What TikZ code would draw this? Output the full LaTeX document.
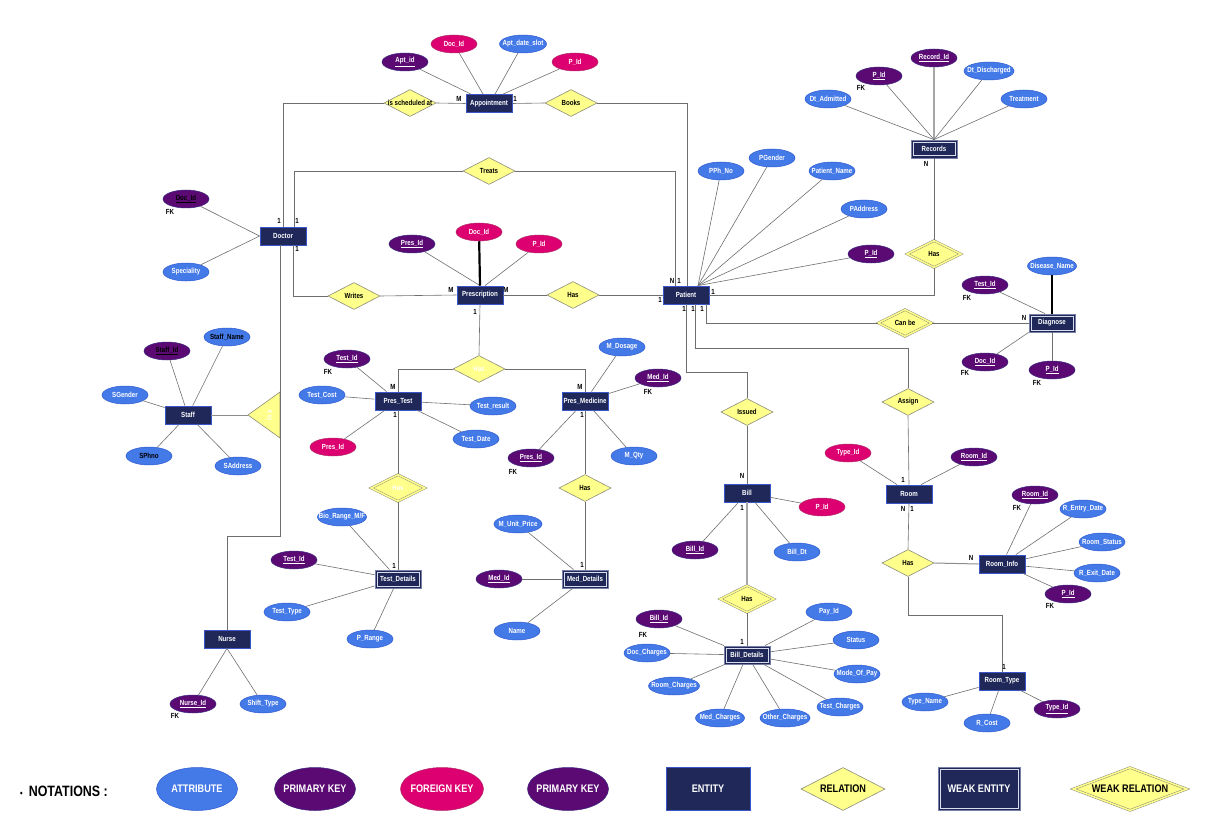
\documentclass[tikz,border=0pt]{standalone}
\usepackage{fontspec}
\setmainfont{Liberation Sans}[FakeStretch=0.83]
\usetikzlibrary{shapes.geometric}

\definecolor{entfill}{HTML}{1F2858}
\definecolor{entdraw}{HTML}{3A56C8}
\definecolor{wentline}{HTML}{7880A8}
\definecolor{wentinner}{HTML}{D8DCEC}
\definecolor{relfill}{HTML}{FFFF8C}
\definecolor{reldraw}{HTML}{8C8C7A}
\definecolor{attrc}{HTML}{4479E8}
\definecolor{attrd}{HTML}{2F5BD0}
\definecolor{pkc}{HTML}{5C0A73}
\definecolor{pkd}{HTML}{3A2A80}
\definecolor{fkc}{HTML}{DC0070}
\definecolor{fkd}{HTML}{B0306A}
\definecolor{lnc}{HTML}{6E6E6E}

\newcommand\dfont{\fontsize{7.4}{8}\selectfont\bfseries}
\newcommand\lfont{\fontsize{11}{12}\selectfont\bfseries}
\newcommand\pkul[1]{\underline{#1}}

\begin{document}
\begin{tikzpicture}[x=1pt,y=-1pt,
  base/.style={inner sep=0pt, font=\dfont,
    execute at begin node={\hbox to 0pt\bgroup\hss},
    execute at end node={\hss\egroup}},
  ent/.style={base, rectangle, fill=entfill, draw=entdraw, line width=0.8pt,
    minimum width=46pt, minimum height=18pt, text=white},
  went/.style={ent, draw=wentline, line width=0.8pt,
    path picture={\draw[draw=wentinner, line width=0.6pt]
      ([xshift=2.2pt,yshift=-2.2pt]path picture bounding box.north west) rectangle
      ([xshift=-2.2pt,yshift=2.2pt]path picture bounding box.south east);}},
  rel/.style={base, diamond, fill=relfill, draw=reldraw, line width=0.6pt,
    minimum width=52pt, minimum height=27pt, text=black},
  wrel/.style={rel, double=relfill, double distance=1.5pt, line width=0.5pt, minimum width=54pt},
  attr/.style={base, ellipse, fill=attrc, draw=attrd, line width=0.5pt,
    minimum width=46pt, minimum height=18pt, text=white},
  pk/.style={attr, fill=pkc, draw=pkd},
  fk/.style={attr, fill=fkc, draw=fkd},
  card/.style={font=\dfont, inner sep=0pt, text=black},
  ln/.style={draw=lnc, line width=0.6pt},
]
\useasboundingbox (0,0) rectangle (1217,826);

% ---------- Appointment ----------
\node[ent] (appt) at (489,103.5) {Appointment};
\node[pk] (aptid) at (405,62) {\pkul{Apt\_id}};
\node[fk] (adoc) at (454,44) {Doc\_Id};
\node[attr, minimum width=47pt] (aslot) at (523,44) {Apt\_date\_slot};
\node[fk] (apid) at (575,62) {P\_Id};
\node[rel] (sched) at (410,103) {is scheduled at};
\node[rel] (books) at (571,103) {Books};

% ---------- Doctor ----------
\node[ent] (doc) at (283,236) {Doctor};
\node[pk, text=black] (docid) at (186,199) {\pkul{Doc\_Id}};
\node[attr] (spec) at (186,272) {Speciality};
\node[rel] (treats) at (489,171) {Treats};
\node[rel] (writes) at (354,296) {Writes};

% ---------- Prescription ----------
\node[ent] (presc) at (480,295) {Prescription};
\node[pk] (prid) at (412,244) {\pkul{Pres\_Id}};
\node[fk] (prdoc) at (479,232) {Doc\_Id};
\node[fk] (prpid) at (539,244) {P\_Id};
\node[rel] (prhas) at (573,295) {Has};
\node[rel, text=white] (prsub) at (479,369) {Has};

% ---------- Patient ----------
\node[ent] (pat) at (686,295) {Patient};
\node[attr] (pph) at (721,171) {PPh\_No};
\node[attr] (pgen) at (772,158) {PGender};
\node[attr] (pname) at (832,171) {Patient\_Name};
\node[attr] (paddr) at (864,209) {PAddress};
\node[pk] (ppid) at (871,254) {\pkul{P\_Id}};

% ---------- Records ----------
\node[went] (rec) at (934,149) {Records};
\node[pk] (recid) at (934,58) {\pkul{Record\_Id}};
\node[pk] (recpid) at (879,76) {\pkul{P\_Id}};
\node[attr] (dtadm) at (828,99) {Dt\_Admitted};
\node[attr, minimum width=50pt] (dtdis) at (989,71) {Dt\_Discharged};
\node[attr] (treat) at (1024,99) {Treatment};
\node[wrel] (rechas) at (934,254) {Has};

% ---------- Diagnose ----------
\node[went] (diag) at (1052,323) {Diagnose};
\node[attr, minimum width=49pt] (dname) at (1052,266) {Disease\_Name};
\node[pk] (dtid) at (985,285) {\pkul{Test\_Id}};
\node[pk] (ddoc) at (985,362) {\pkul{Doc\_Id}};
\node[pk] (dpid) at (1052,370) {\pkul{P\_Id}};
\node[wrel] (canbe) at (905,323) {Can be};

% ---------- Staff ----------
\node[ent] (staff) at (188,415) {Staff};
\node[pk, text=black] (stid) at (167,351) {\pkul{Staff\_Id}};
\node[attr, text=black] (stname) at (227,337) {Staff\_Name};
\node[attr] (sgen) at (125,395) {SGender};
\node[attr, text=black] (sph) at (149,456) {SPhno};
\node[attr] (saddr) at (238,466) {SAddress};
\coordinate (isaapex) at (248,415);
\draw[fill=relfill, draw=reldraw, line width=0.6pt] (isaapex) -- (280,392) -- (280,438) -- cycle;
\node[base, text=white, rotate=90] (isa) at (269,415) {Is a};

% ---------- Pres_Test ----------
\node[ent] (ptest) at (398,401) {Pres\_Test};
\node[pk] (pttid) at (347,359) {\pkul{Test\_Id}};
\node[attr] (tcost) at (322,395) {Test\_Cost};
\node[fk] (ptpres) at (333,447) {Pres\_Id};
\node[attr] (tres) at (493,406) {Test\_result};
\node[attr] (tdate) at (476,439) {Test\_Date};
\node[wrel, text=white] (thas) at (398,488) {Has};

% ---------- Pres_Medicine ----------
\node[ent] (pmed) at (585,401) {Pres\_Medicine};
\node[attr] (mdos) at (622,347) {M\_Dosage};
\node[pk] (pmmid) at (658,378) {\pkul{Med\_Id}};
\node[pk] (pmpres) at (531,458) {\pkul{Pres\_Id}};
\node[attr] (mqty) at (634,456) {M\_Qty};
\node[rel] (mhas) at (585,488) {Has};

% ---------- Test_Details / Med_Details ----------
\node[went] (tdet) at (398,579) {Test\_Details};
\node[attr, minimum width=49pt] (bio) at (342,517) {Bio\_Range\_M/F};
\node[pk] (tdtid) at (294,560) {\pkul{Test\_Id}};
\node[attr] (ttype) at (287,612) {Test\_Type};
\node[attr] (prange) at (370,639) {P\_Range};

\node[went] (mdet) at (585,579) {Med\_Details};
\node[attr, minimum width=48pt] (mup) at (518,524) {M\_Unit\_Price};
\node[pk] (mdmid) at (499,579) {\pkul{Med\_Id}};
\node[attr] (mname) at (517,631) {Name};

% ---------- Nurse ----------
\node[ent] (nurse) at (227,639) {Nurse};
\node[pk] (nid) at (193,704) {\pkul{Nurse\_Id}};
\node[attr] (shift) at (263,704) {Shift\_Type};

% ---------- Bill ----------
\node[rel] (issued) at (747,412) {Issued};
\node[ent] (bill) at (747,493) {Bill};
\node[fk] (bpid) at (822,507) {P\_Id};
\node[pk] (bid) at (695,550) {\pkul{Bill\_Id}};
\node[attr] (bdt) at (797,552) {Bill\_Dt};
\node[wrel] (bhas) at (747,599) {Has};
\node[went] (bdet) at (747,655) {Bill\_Details};
\node[pk] (bdbid) at (659,619) {\pkul{Bill\_Id}};
\node[attr] (docch) at (647,653) {Doc\_Charges};
\node[attr, minimum width=51pt] (roomch) at (674,686) {Room\_Charges};
\node[attr, minimum width=49pt] (medch) at (720,718) {Med\_Charges};
\node[attr, minimum width=50pt] (othch) at (785,718) {Other\_Charges};
\node[attr] (testch) at (840,707) {Test\_Charges};
\node[attr] (mop) at (857,674) {Mode\_Of\_Pay};
\node[attr] (status) at (856,640) {Status};
\node[attr] (payid) at (829,612) {Pay\_Id};

% ---------- Room ----------
\node[rel] (assign) at (908,402) {Assign};
\node[ent] (room) at (909,494) {Room};
\node[fk] (rtyid) at (848,453) {Type\_Id};
\node[pk] (rrid) at (974,457) {\pkul{Room\_Id}};
\node[rel] (roomhas) at (908,563) {Has};
\node[ent] (rinfo) at (1002,564) {Room\_Info};
\node[pk] (riid) at (1035,495) {\pkul{Room\_Id}};
\node[attr] (rentry) at (1083,509) {R\_Entry\_Date};
\node[attr] (rstat) at (1102,542) {Room\_Status};
\node[attr] (rexit) at (1097,573) {R\_Exit\_Date};
\node[pk] (ripid) at (1068,594) {\pkul{P\_Id}};
\node[ent] (rtype) at (1002,681) {Room\_Type};
\node[attr] (tname) at (925,702) {Type\_Name};
\node[attr] (rcost) at (987,723) {R\_Cost};
\node[pk] (rttid) at (1057,709) {\pkul{Type\_Id}};

% ---------- attribute links ----------
\draw[ln] (aptid) -- ([xshift=-18pt]appt.north);
\draw[ln] (adoc) -- ([xshift=-6pt]appt.north);
\draw[ln] (aslot) -- ([xshift=6pt]appt.north);
\draw[ln] (apid) -- ([xshift=14pt]appt.north);

\draw[ln] (docid) -- (doc.west);
\draw[ln] (spec) -- (doc.west);

\draw[ln] (prid) -- (presc.north);
\draw[line width=2.2pt, black] (prdoc) -- (presc.north);
\draw[ln] (prpid) -- ([xshift=5pt]presc.north);

\foreach \a in {pph,pgen,pname,paddr,ppid}
  \draw[ln] (\a) -- ([xshift=12pt]pat.north);

\draw[draw=black!35, line width=1.2pt] (recid) -- (rec.north);
\foreach \a in {recpid,dtadm,dtdis,treat}
  \draw[ln] (\a) -- (rec.north);

\draw[line width=1.6pt, black] (dname) -- (diag.north);
\draw[ln] (dtid) -- ([xshift=-7pt]diag.north);
\draw[ln] (ddoc) -- (diag.south west);
\draw[ln] (dpid) -- (diag.south);

\foreach \a in {stid,stname,sgen,sph,saddr}
  \draw[ln] (\a) -- (staff);
\draw[ln, line width=1pt, draw=black!45] (staff.east) -- (isaapex);

\foreach \a in {pttid,tcost,ptpres,tres,tdate}
  \draw[ln] (\a) -- (ptest);
\foreach \a in {mdos,pmmid,pmpres,mqty}
  \draw[ln] (\a) -- (pmed);
\foreach \a in {bio,tdtid,ttype,prange}
  \draw[ln] (\a) -- (tdet);
\foreach \a in {mup,mdmid,mname}
  \draw[ln] (\a) -- (mdet);
\foreach \a in {nid,shift}
  \draw[ln] (\a) -- (nurse.south);
\foreach \a in {bpid,bid,bdt}
  \draw[ln] (\a) -- (bill);
\foreach \a in {bdbid,docch,roomch,medch,othch,testch,mop,status,payid}
  \draw[ln] (\a) -- (bdet);
\draw[ln] (rtyid) -- ([xshift=-12pt]room.north);
\draw[ln] (rrid) -- ([xshift=12pt]room.north);
\foreach \a in {riid,rentry,rstat,rexit,ripid}
  \draw[ln] (\a) -- (rinfo);
\foreach \a in {tname,rcost,rttid}
  \draw[ln] (\a) -- (rtype);

% ---------- relationship links ----------
\draw[ln] (sched.east) -- (appt.west);
\draw[ln] (sched.west) -| (doc.north);
\draw[ln] (appt.east) -- (books.west);
\draw[ln] (books.east) -| ([xshift=1pt]pat.north);
\draw[ln] (treats.west) -| ([xshift=11pt]doc.north);
\draw[ln] (treats.east) -| ([xshift=-11pt]pat.north);
\draw[ln] ([xshift=10pt]doc.south) |- (writes.west);
\draw[ln] (writes.east) -- (presc.west);
\coordinate (nbend) at (280,536);
\draw[ln] ([xshift=-3pt]doc.south) -- (nbend) -| (nurse.north);
\draw[ln] (presc.east) -- (prhas.west);
\draw[ln] (prhas.east) -- (pat.west);
\draw[ln] (presc.south) -- (prsub.north);
\draw[ln] (prsub.west) -| (ptest.north);
\draw[ln] (prsub.east) -| (pmed.north);
\draw[ln] (ptest.south) -- (thas.north);
\draw[ln] (thas.south) -- (tdet.north);
\draw[ln] (pmed.south) -- (mhas.north);
\draw[ln] (mhas.south) -- (mdet.north);
\draw[ln] (pat.east) -| (rechas.south);
\draw[ln] (rechas.north) -- (rec.south);
\draw[ln] ([xshift=20pt]pat.south) |- (canbe.west);
\draw[ln] (canbe.east) -- (diag.west);
\draw[ln] ([xshift=9pt]pat.south) |- (assign.north |- 0,348) -- (assign.north);
\draw[ln] (pat.south) |- (issued.north |- 0,372) -- (issued.north);
\draw[ln] (issued.south) -- (bill.north);
\draw[draw=black!35, line width=1.2pt] (bill.south) -- (bhas.north);
\draw[ln] (bhas.south) -- (bdet.north);
\draw[ln] (assign.south) -- (room.north);
\draw[ln] (room.south) -- (roomhas.north);
\draw[ln, line width=1pt, draw=black!45] (roomhas.east) -- (rinfo.west);
\draw[ln] (roomhas.south) |- (rtype.north |- 0,615) -- (rtype.north);

% ---------- cardinalities ----------
\node[card] (c1) at (459,99) {M};
\node[card] (c2) at (515,99) {1};
\node[card] (c3) at (279,221) {1};
\node[card] (c4) at (297,221) {1};
\node[card] (c5) at (297,249) {1};
\node[card] (c6) at (451,290) {M};
\node[card] (c7) at (506,290) {M};
\node[card] (c8) at (475,312) {1};
\node[card] (c9) at (672,281) {N};
\node[card] (c10) at (679,281) {1};
\node[card] (c11) at (660,300) {1};
\node[card] (c12) at (713,292) {1};
\node[card] (c13) at (684,309) {1};
\node[card] (c14) at (693,309) {1};
\node[card] (c15) at (702,309) {1};
\node[card] (c16) at (926,164) {N};
\node[card] (c17) at (1024,318) {N};
\node[card] (c18) at (393,387) {M};
\node[card] (c19) at (395,415) {1};
\node[card] (c20) at (580,387) {M};
\node[card] (c21) at (582,415) {1};
\node[card] (c22) at (394,566) {1};
\node[card] (c23) at (582,565) {1};
\node[card] (c24) at (742,476) {N};
\node[card] (c25) at (742,508) {1};
\node[card] (c26) at (742,642) {1};
\node[card] (c27) at (903,480) {1};
\node[card] (c28) at (903,509) {N};
\node[card] (c29) at (912,509) {1};
\node[card] (c30) at (971,558) {N};
\node[card] (c31) at (1004,667) {1};

% ---------- foreign key marks ----------
\node[card] (f1) at (170,212) {FK};
\node[card] (f2) at (861,88) {FK};
\node[card] (f3) at (967,298) {FK};
\node[card] (f4) at (965,373) {FK};
\node[card] (f5) at (1037,383) {FK};
\node[card] (f6) at (328,372) {FK};
\node[card] (f7) at (648,392) {FK};
\node[card] (f8) at (513,472) {FK};
\node[card] (f9) at (175,716) {FK};
\node[card] (f10) at (643,635) {FK};
\node[card] (f11) at (1017,508) {FK};
\node[card] (f12) at (1050,606) {FK};

% ---------- notations ----------
\draw[draw=black!50, double=white, double distance=1.4pt, line width=0.7pt] (0,748) -- (1217,748);
\node[font=\fontsize{15}{16}\selectfont\bfseries, inner sep=0pt, anchor=west] (notes) at (20,791)
  {{\fontsize{9}{9}\selectfont\textbullet}\hspace{6pt}NOTATIONS :};
\node[attr, minimum width=81pt, minimum height=43pt, font=\lfont] (lattr) at (197,789) {ATTRIBUTE};
\node[pk, minimum width=81pt, minimum height=43pt, font=\lfont] (lpk1) at (315,789) {PRIMARY KEY};
\node[fk, minimum width=83pt, minimum height=43pt, font=\lfont] (lfk) at (442,789) {FOREIGN KEY};
\node[pk, minimum width=81pt, minimum height=43pt, font=\lfont] (lpk2) at (568,789) {PRIMARY KEY};
\node[ent, minimum width=84pt, minimum height=43pt, font=\lfont] (lent) at (708,789) {ENTITY};
\node[rel, minimum width=84pt, minimum height=43pt, font=\lfont] (lrel) at (843,789) {RELATION};
\node[went, minimum width=82pt, minimum height=43pt, font=\lfont] (lwent) at (979,789) {WEAK ENTITY};
\node[wrel, minimum width=114pt, minimum height=43pt, font=\lfont] (lwrel) at (1130,789) {WEAK RELATION};
\end{tikzpicture}
\end{document}
